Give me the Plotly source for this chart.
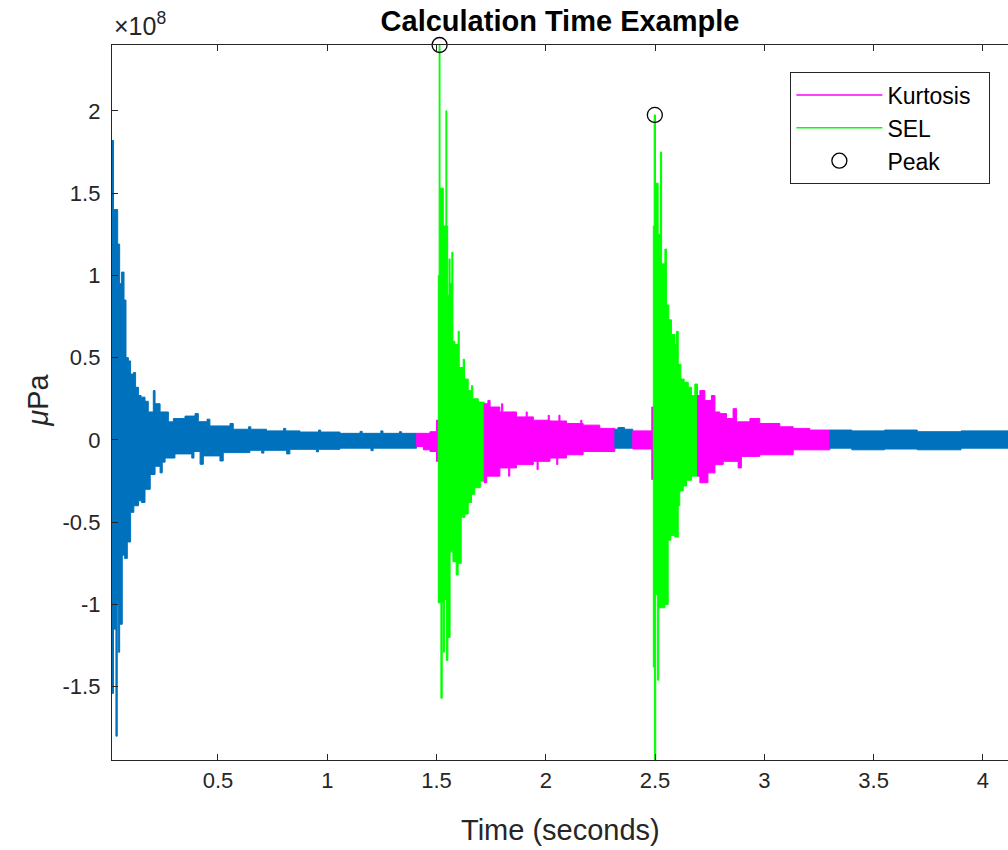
import plotly.graph_objects as go

# ---------------- data (values in units of 1e8 uPa, time in seconds) ----------------
# Each colored stretch of the waveform is described by its read-off envelope:
# *_tu: breakpoints of the upper envelope, *_u: upper value on each interval
# *_tl: breakpoints of the lower envelope, *_l: lower value on each interval

blue1_tu = [0.015, 0.022, 0.041, 0.050, 0.059, 0.070, 0.079, 0.090, 0.100, 0.113, 0.123, 0.136,
            0.148, 0.166, 0.181, 0.204, 0.212, 0.235, 0.273, 0.296, 0.349, 0.395, 0.410, 0.450,
            0.463, 0.555, 0.570, 0.640, 0.650, 0.722, 0.800, 0.810, 0.875, 0.960, 0.970, 1.058,
            1.150, 1.160, 1.245, 1.255, 1.330, 1.340, 1.409]
blue1_u = [1.82, 1.40, 1.19, 0.95, 1.02, 0.85, 0.50, 0.48, 0.40, 0.41, 0.32, 0.27,
           0.26, 0.235, 0.17, 0.30, 0.22, 0.17, 0.11, 0.13, 0.145, 0.16, 0.111, 0.126,
           0.085, 0.10, 0.065, 0.08, 0.065, 0.055, 0.07, 0.055, 0.048, 0.06, 0.048,
           0.04, 0.052, 0.04, 0.055, 0.04, 0.05, 0.04]
blue1_tl = [0.015, 0.022, 0.033, 0.039, 0.044, 0.050, 0.062, 0.073, 0.085, 0.100, 0.115, 0.136,
            0.150, 0.166, 0.190, 0.212, 0.235, 0.245, 0.258, 0.303, 0.380, 0.390, 0.418, 0.433,
            0.509, 0.524, 0.646, 0.700, 0.710, 0.814, 0.829, 0.950, 0.960, 1.058, 1.200, 1.210,
            1.409]
blue1_l = [-1.54, -1.15, -1.80, -0.99, -1.29, -1.12, -0.70, -0.72, -0.62, -0.44, -0.40, -0.37,
           -0.38, -0.30, -0.21, -0.16, -0.20, -0.135, -0.11, -0.085, -0.11, -0.07, -0.148, -0.097,
           -0.128, -0.077, -0.063, -0.08, -0.063, -0.085, -0.057, -0.072, -0.057, -0.05, -0.065,
           -0.05]

pink1_tu = [1.409, 1.470, 1.500, 1.508]
pink1_u = [0.04, 0.05, 0.12]
pink1_tl = [1.409, 1.440, 1.470, 1.500, 1.508]
pink1_l = [-0.04, -0.06, -0.07, -0.13]

green1_tu = [1.508, 1.512, 1.516, 1.531, 1.543, 1.547, 1.551, 1.557, 1.562, 1.570, 1.575, 1.584,
             1.599, 1.604, 1.622, 1.628, 1.645, 1.660, 1.666, 1.691, 1.718]
green1_u = [1.00, 2.40, 1.53, 1.30, 2.00, 1.30, 0.88, 1.10, 0.95, 1.14, 0.60, 0.58,
            0.66, 0.44, 0.49, 0.37, 0.30, 0.33, 0.25, 0.23]
green1_tl = [1.508, 1.520, 1.526, 1.531, 1.536, 1.545, 1.552, 1.562, 1.575, 1.590, 1.599, 1.613,
             1.630, 1.645, 1.660, 1.675, 1.700, 1.718]
green1_l = [-0.99, -1.57, -0.99, -1.29, -0.97, -1.34, -1.20, -0.68, -0.74, -0.82, -0.75, -0.47,
            -0.45, -0.38, -0.33, -0.29, -0.25]

pink2_tu = [1.718, 1.735, 1.745, 1.790, 1.798, 1.803, 1.866, 1.910, 1.915, 1.943, 2.011, 2.016,
            2.019, 2.060, 2.065, 2.095, 2.160, 2.165, 2.171, 2.247, 2.316]
pink2_u = [0.22, 0.24, 0.20, 0.17, 0.22, 0.17, 0.14, 0.17, 0.14, 0.12, 0.15, 0.12,
           0.115, 0.15, 0.115, 0.10, 0.12, 0.10, 0.09, 0.07]
pink2_tl = [1.718, 1.730, 1.790, 1.830, 1.835, 1.866, 1.943, 1.960, 1.965, 2.019, 2.050, 2.055,
            2.095, 2.171, 2.316]
pink2_l = [-0.26, -0.22, -0.17, -0.22, -0.17, -0.15, -0.13, -0.18, -0.13, -0.11, -0.15, -0.11,
           -0.09, -0.07]

blue2_tu = [2.316, 2.330, 2.360, 2.398]
blue2_u = [0.065, 0.075, 0.065]
blue2_tl = [2.316, 2.398]
blue2_l = [-0.05]

pink3_tu = [2.398, 2.485, 2.492]
pink3_u = [0.055, 0.20]
pink3_tl = [2.398, 2.485, 2.492]
pink3_l = [-0.055, -0.24]

green2_tu = [2.492, 2.496, 2.502, 2.514, 2.525, 2.530, 2.545, 2.552, 2.563, 2.575, 2.591, 2.598,
             2.606, 2.618, 2.633, 2.652, 2.667, 2.682, 2.694]
green2_u = [1.30, 1.975, 1.56, 1.25, 1.75, 1.07, 1.16, 0.82, 0.73, 0.64, 0.58, 0.66,
            0.46, 0.37, 0.35, 0.32, 0.27, 0.34]
green2_tl = [2.492, 2.497, 2.503, 2.512, 2.517, 2.545, 2.560, 2.572, 2.590, 2.606, 2.613, 2.629,
             2.644, 2.667, 2.694]
green2_l = [-1.38, -1.945, -0.94, -1.46, -1.02, -1.00, -0.61, -0.58, -0.59, -0.40, -0.31, -0.28,
            -0.245, -0.22]

pink4_tu = [2.694, 2.705, 2.728, 2.758, 2.774, 2.796, 2.827, 2.857, 2.873, 2.934, 2.979, 3.071,
            3.132, 3.208, 3.300]
pink4_u = [0.27, 0.30, 0.24, 0.27, 0.17, 0.16, 0.13, 0.19, 0.11, 0.13, 0.10, 0.08, 0.07, 0.06]
pink4_tl = [2.694, 2.705, 2.742, 2.774, 2.812, 2.880, 2.895, 2.979, 3.132, 3.300]
pink4_l = [-0.22, -0.26, -0.20, -0.15, -0.13, -0.17, -0.10, -0.09, -0.06]

blue3_tu = [3.300, 3.400, 3.550, 3.700, 3.900, 4.115]
blue3_u = [0.06, 0.055, 0.06, 0.05, 0.055]
blue3_tl = [3.300, 3.400, 3.550, 3.700, 3.900, 4.115]
blue3_l = [-0.05, -0.06, -0.055, -0.06, -0.05]

peak_t = [1.514, 2.499]
peak_v = [2.40, 1.975]

x_range = [0.015, 4.115]
y_range = [-1.945, 2.40]
x_ticks = [0.5, 1, 1.5, 2, 2.5, 3, 3.5, 4]
x_ticklabels = ["0.5", "1", "1.5", "2", "2.5", "3", "3.5", "4"]
y_ticks = [-1.5, -1, -0.5, 0, 0.5, 1, 1.5, 2]
y_ticklabels = ["-1.5", "-1", "-0.5", "0", "0.5", "1", "1.5", "2"]

BLUE = "#0072BD"
MAGENTA = "#FF00FF"
GREEN = "#00FF00"
AXIS = "#262626"
FONT = "Liberation Sans, Arial, sans-serif"


def band(tu, u, tl, l):
    xs, ys = [], []
    for i in range(len(u)):
        xs += [tu[i], tu[i + 1]]
        ys += [u[i], u[i]]
    for i in reversed(range(len(l))):
        xs += [tl[i + 1], tl[i]]
        ys += [l[i], l[i]]
    xs.append(xs[0])
    ys.append(ys[0])
    return xs, ys


fig = go.Figure()

segments = [
    (blue1_tu, blue1_u, blue1_tl, blue1_l, BLUE),
    (pink1_tu, pink1_u, pink1_tl, pink1_l, MAGENTA),
    (green1_tu, green1_u, green1_tl, green1_l, GREEN),
    (pink2_tu, pink2_u, pink2_tl, pink2_l, MAGENTA),
    (blue2_tu, blue2_u, blue2_tl, blue2_l, BLUE),
    (pink3_tu, pink3_u, pink3_tl, pink3_l, MAGENTA),
    (green2_tu, green2_u, green2_tl, green2_l, GREEN),
    (pink4_tu, pink4_u, pink4_tl, pink4_l, MAGENTA),
    (blue3_tu, blue3_u, blue3_tl, blue3_l, BLUE),
]
for tu, u, tl, l, col in segments:
    xs, ys = band(tu, u, tl, l)
    fig.add_trace(go.Scatter(x=xs, y=ys, mode="lines", fill="toself", fillcolor=col,
                             line=dict(color=col, width=1), showlegend=False,
                             hoverinfo="skip"))

# legend entries
fig.add_trace(go.Scatter(x=[None], y=[None], mode="lines", name="Kurtosis\u00a0\u00a0",
                         line=dict(color=MAGENTA, width=1.5)))
fig.add_trace(go.Scatter(x=[None], y=[None], mode="lines", name="SEL",
                         line=dict(color=GREEN, width=1.5)))
fig.add_trace(go.Scatter(x=peak_t, y=peak_v, mode="markers", name="Peak", cliponaxis=False,
                         marker=dict(symbol="circle-open", size=15, color="black",
                                     line=dict(width=1.3, color="black"))))

fig.update_layout(
    width=1008, height=850,
    margin=dict(l=112, r=0, t=45, b=90),
    paper_bgcolor="white", plot_bgcolor="white",
    font=dict(family=FONT, color=AXIS, size=22),
    title=dict(text="<b>Calculation Time Example</b>", x=0.5, xref="paper",
               y=1 - 21 / 850, yref="container", yanchor="middle", xanchor="center",
               font=dict(family=FONT, size=29, color="black")),
    showlegend=True,
    legend=dict(x=0.98, xanchor="right", y=0.962, yanchor="top",
                bgcolor="white", bordercolor=AXIS, borderwidth=1.3,
                font=dict(family=FONT, size=23, color="black"), itemwidth=86),
)
fig.update_xaxes(range=x_range, tickmode="array", tickvals=x_ticks, ticktext=x_ticklabels,
                 showline=True, linecolor=AXIS, linewidth=1.3, mirror="ticks",
                 ticks="inside", ticklen=6, tickwidth=1.3, tickcolor=AXIS,
                 showgrid=False, zeroline=False, tickfont=dict(size=22, color=AXIS))
fig.update_yaxes(range=y_range, tickmode="array", tickvals=y_ticks, ticktext=y_ticklabels,
                 showline=True, linecolor=AXIS, linewidth=1.3, mirror=False,
                 ticks="inside", ticklen=6, tickwidth=1.3, tickcolor=AXIS,
                 showgrid=False, zeroline=False, tickfont=dict(size=22, color=AXIS),
                 ticklabelstandoff=6)

fig.add_annotation(text="Time (seconds)", xref="paper", yref="paper", x=0.5, y=-0.098,
                   xanchor="center", yanchor="middle", showarrow=False,
                   font=dict(family=FONT, size=29, color=AXIS))
fig.add_annotation(text="<i>μ</i>Pa", xref="paper", yref="paper", x=-0.083, y=0.5035,
                   xanchor="center", yanchor="middle", showarrow=False, textangle=-90,
                   font=dict(family=FONT, size=29, color=AXIS))
fig.add_annotation(text="×10<sup>8</sup>", xref="paper", yref="paper", x=0.0, y=1.004,
                   xanchor="left", yanchor="bottom", showarrow=False,
                   font=dict(family=FONT, size=25, color=AXIS))

fig.write_html("out.html")
